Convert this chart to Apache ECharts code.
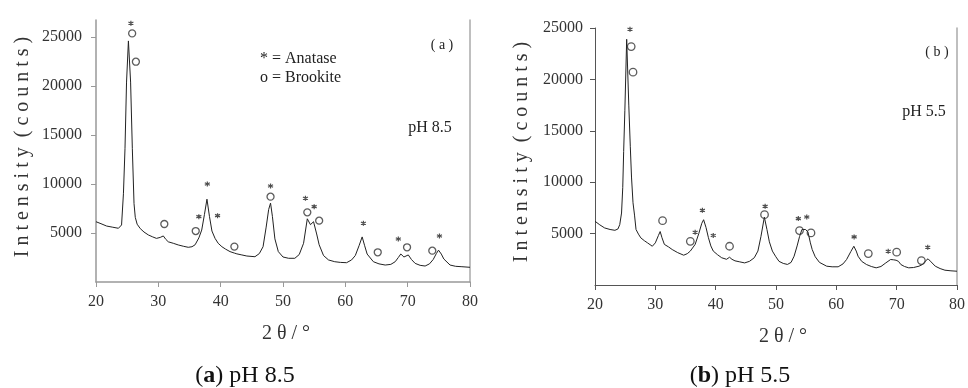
<!DOCTYPE html>
<html>
<head>
<meta charset="utf-8">
<script src="https://cdn.jsdelivr.net/npm/echarts@6/dist/echarts.min.js"></script>
<style>html,body{margin:0;padding:0;background:#fff}#c{width:968px;height:388px}</style>
</head>
<body>
<div id="c"></div>
<script>
// ---- Data: panel (a) pH 8.5 ----
const thetaA = [20.0,20.8,21.7,22.6,23.6,24.1,24.4,24.65,24.9,25.2,25.55,25.83,26.1,26.3,26.6,27.1,27.7,28.4,29.1,29.7,30.3,30.8,31.2,31.6,32.4,33.2,34.0,34.8,35.4,35.9,36.5,36.96,37.4,37.8,38.2,38.6,39.1,39.6,40.2,40.8,41.5,42.2,42.6,43.4,44.2,45.5,46.2,46.8,47.3,47.7,48.0,48.3,48.7,49.25,50.0,50.9,51.9,52.6,53.3,53.9,54.4,54.9,55.4,55.8,56.5,57.3,58.3,59.2,60.2,61.0,61.6,62.2,62.7,63.1,63.5,64.5,65.4,66.4,67.3,68.0,68.5,68.9,69.4,70.1,70.6,71.2,72.0,72.8,73.5,74.1,74.6,74.95,75.4,75.8,76.8,77.7,78.7,80.0];
const countsA = [6150,5950,5710,5600,5480,5820,9000,13600,20400,24600,20400,13600,8000,6600,5900,5450,5100,4800,4600,4450,4550,4700,4350,4100,3950,3780,3650,3540,3600,3800,4500,5300,6900,8450,6700,5200,4450,3950,3600,3350,3100,2950,2870,2760,2650,2580,2900,3600,5600,7400,8050,6700,4400,3100,2550,2420,2420,2800,3950,6450,5850,6150,4900,3800,2700,2250,2070,2000,1970,2250,2700,3700,4600,3700,2850,2070,1850,1730,1800,2070,2500,2860,2550,2760,2300,1900,1700,1630,1850,2300,2900,3250,2850,2350,1730,1600,1560,1500];
const anataseA = [[25.6,26400],[36.5,6670],[37.86,10000],[39.5,6770],[48.0,9800],[53.6,8540],[55.0,7690],[62.9,5990],[68.5,4390],[75.1,4690]];
const brookiteA = [[25.8,25370],[26.4,22480],[30.96,5920],[36.0,5200],[42.2,3610],[48.0,8710],[53.9,7110],[55.8,6260],[65.2,3030],[69.9,3540],[73.95,3200]];

// ---- Data: panel (b) pH 5.5 ----
const thetaB = [20.0,20.8,21.6,22.5,23.3,23.8,24.1,24.4,24.6,24.75,24.95,25.25,25.6,25.85,26.05,26.3,26.55,26.8,27.2,27.6,28.2,28.7,29.5,30.0,30.5,30.8,31.1,31.5,32.2,32.8,33.7,34.7,35.3,35.8,36.6,37.2,37.7,38.0,38.4,38.8,39.2,39.6,40.3,41.0,41.8,42.3,42.7,43.2,44.0,44.8,45.6,46.4,47.0,47.5,48.07,48.5,48.9,49.4,49.97,50.5,51.2,51.9,52.5,53.0,53.5,53.9,54.3,54.6,54.9,55.3,55.7,56.0,56.5,57.2,58.4,59.3,60.3,61.1,61.7,62.4,62.9,63.3,63.6,64.2,65.0,65.8,66.6,67.4,68.2,69.0,69.5,69.9,70.3,70.7,71.3,72.0,72.8,73.7,74.3,74.8,75.2,75.7,76.4,77.2,78.0,79.0,80.0];
const countsB = [6200,5850,5550,5400,5320,5450,5870,7000,9500,13000,17000,23900,17500,13500,10500,8000,6800,5400,4950,4580,4300,4100,3770,4100,4800,5200,4600,3950,3700,3450,3150,2900,3050,3300,3950,5000,6000,6350,5600,4600,3800,3300,2950,2650,2500,2700,2500,2350,2250,2150,2300,2650,3300,4700,6600,5400,4200,3300,2750,2300,2100,2000,2200,2800,3800,4700,5400,5550,5400,5150,4100,3450,2750,2200,1830,1770,1770,2050,2480,3250,3770,3300,2800,2300,1990,1800,1670,1800,2150,2480,2450,2410,2300,1990,1800,1670,1700,1830,2000,2350,2550,2250,1830,1600,1440,1380,1340];
const anataseB = [[25.8,24870],[36.6,5130],[37.8,7260],[39.6,4810],[48.2,7650],[53.7,6460],[55.1,6620],[62.95,4680],[68.6,3280],[75.15,3670]];
const brookiteB = [[26.0,23190],[26.3,20700],[31.2,6260],[35.8,4250],[42.3,3770],[48.1,6840],[53.9,5290],[55.8,5070],[65.3,3060],[70.0,3190],[74.1,2380]];

const xTicks = [20,30,40,50,60,70,80];
const yTicks = [5000,10000,15000,20000,25000];

const zip = (xs, ys) => xs.map((x, i) => [x, ys[i]]);
const FONT = '"Liberation Serif", "Times New Roman", serif';
const ASTER = 'path://M0,-1L0,1M-0.87,-0.5L0.87,0.5M-0.87,0.5L0.87,-0.5';
const plain = v => String(v);

function xAxis(gi, color, w) {
  return {
    type: 'value', gridIndex: gi, min: 20, max: 80, interval: 10,
    axisLine: { show: true, onZero: false, lineStyle: { color: color, width: w } },
    axisTick: { show: true, length: 5, lineStyle: { color: color } },
    axisLabel: { color: '#333', fontFamily: FONT, fontSize: 16, margin: 12, customValues: xTicks, formatter: plain },
    splitLine: { show: false }
  };
}
function yAxis(gi, max, color, w, margin) {
  return {
    type: 'value', gridIndex: gi, min: 0, max: max,
    axisLine: { show: true, onZero: false, lineStyle: { color: color, width: w } },
    axisTick: { show: true, length: 5, customValues: yTicks, lineStyle: { color: color } },
    axisLabel: { color: '#333', fontFamily: FONT, fontSize: 16, margin: margin, customValues: yTicks, formatter: plain },
    splitLine: { show: false }
  };
}
function rightAxis(gi, max, color) {
  return {
    type: 'value', gridIndex: gi, min: 0, max: max, position: 'right',
    axisLine: { show: true, onZero: false, lineStyle: { color: color, width: 1.5 } },
    axisTick: { show: false }, axisLabel: { show: false }, splitLine: { show: false }
  };
}
function lineSeries(xi, yi, data) {
  return { type: 'line', xAxisIndex: xi, yAxisIndex: yi, data: data, showSymbol: false,
    lineStyle: { color: '#222', width: 1 }, silent: true, animation: false, z: 2 };
}
function circles(xi, yi, data, size) {
  return { type: 'scatter', xAxisIndex: xi, yAxisIndex: yi, data: data, symbol: 'circle', symbolSize: size,
    itemStyle: { color: 'rgba(255,255,255,0)', borderColor: '#333', borderWidth: 1.3 }, animation: false, z: 3 };
}
function stars(xi, yi, data) {
  return { type: 'scatter', xAxisIndex: xi, yAxisIndex: yi, data: data, symbol: ASTER, symbolSize: 5,
    itemStyle: { color: '#222', borderColor: '#222', borderWidth: 1.2 }, animation: false, z: 3 };
}
function txt(x, y, text, size, extra) {
  return { type: 'text', x: x, y: y,
    style: Object.assign({ text: text, font: size + 'px ' + FONT, fill: '#222', align: 'center', verticalAlign: 'middle' }, extra || {}) };
}

const chart = echarts.init(document.getElementById('c'));
chart.setOption({
  backgroundColor: '#fff',
  animation: false,
  grid: [
    { left: 96, top: 20, width: 374, height: 262 },
    { left: 595, top: 28, width: 367, height: 257 }
  ],
  xAxis: [ xAxis(0, '#999', 1.5), xAxis(1, '#555', 1) ],
  yAxis: [ yAxis(0, 26735, '#999', 1.5, 14), yAxis(1, 25000, '#555', 1, 12),
           rightAxis(0, 26735, '#aaa'), rightAxis(1, 25000, '#aaa') ],
  series: [
    lineSeries(0, 0, zip(thetaA, countsA)),
    stars(0, 0, anataseA),
    circles(0, 0, brookiteA, 7),
    lineSeries(1, 1, zip(thetaB, countsB)),
    stars(1, 1, anataseB),
    circles(1, 1, brookiteB, 7.5)
  ],
  graphic: [
    { type: 'text', x: 23, y: 147, rotation: Math.PI / 2,
      style: { text: 'I n t e n s i t y  ( c o u n t s )', font: '20px ' + FONT, fill: '#333', align: 'center', verticalAlign: 'middle' } },
    { type: 'text', x: 522, y: 152, rotation: Math.PI / 2,
      style: { text: 'I n t e n s i t y  ( c o u n t s )', font: '20px ' + FONT, fill: '#333', align: 'center', verticalAlign: 'middle' } },
    txt(286, 334, '2 θ / °', 20, { fill: '#333' }),
    txt(783, 337, '2 θ / °', 20, { fill: '#333' }),
    txt(442, 45, '( a )', 14),
    txt(937, 52, '( b )', 14),
    txt(260, 59, '* = Anatase', 16, { align: 'left' }),
    txt(260, 78, 'o = Brookite', 16, { align: 'left' }),
    txt(430, 128, 'pH 8.5', 16),
    txt(924, 112, 'pH 5.5', 16),
    { type: 'text', x: 245, y: 376, style: { rich: { b: { font: 'bold 24px ' + FONT, fill: '#111' }, n: { font: '24px ' + FONT, fill: '#111' } },
      text: '{n|(}{b|a}{n|) pH 8.5}', align: 'center', verticalAlign: 'middle' } },
    { type: 'text', x: 740, y: 376, style: { rich: { b: { font: 'bold 24px ' + FONT, fill: '#111' }, n: { font: '24px ' + FONT, fill: '#111' } },
      text: '{n|(}{b|b}{n|) pH 5.5}', align: 'center', verticalAlign: 'middle' } }
  ]
});
</script>
</body>
</html>
